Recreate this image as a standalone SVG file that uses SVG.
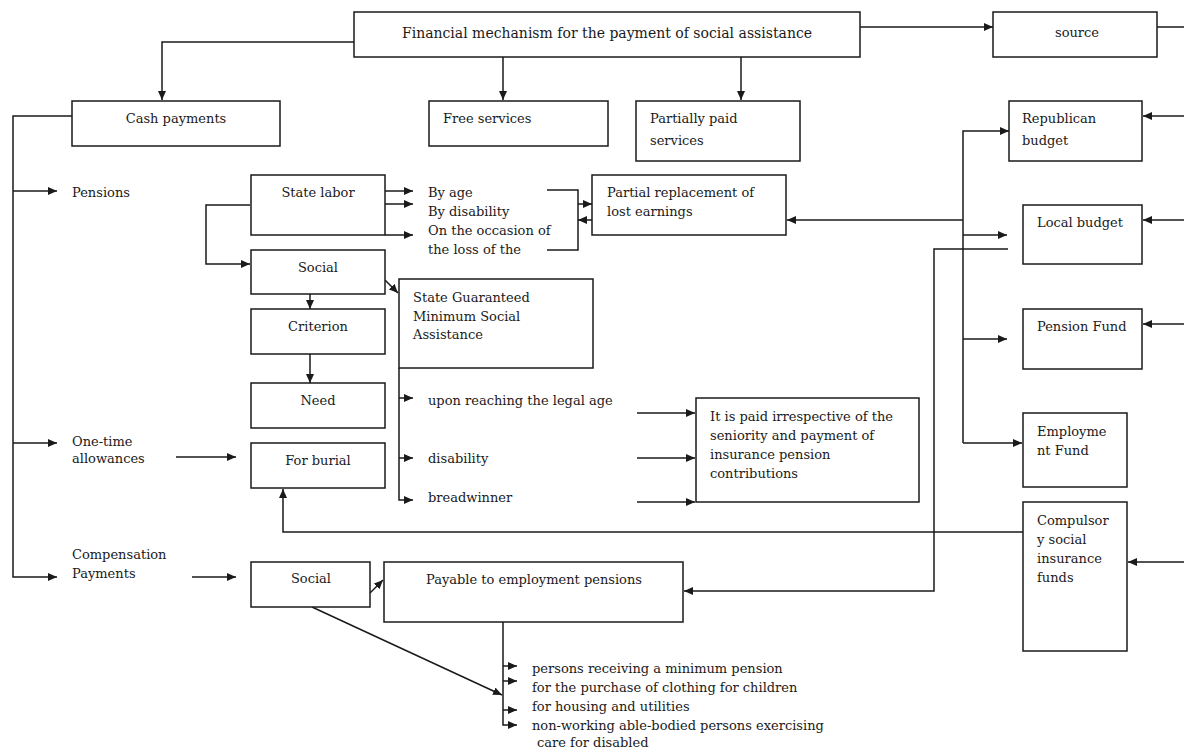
<svg xmlns="http://www.w3.org/2000/svg" width="1184" height="751" viewBox="0 0 1184 751">
<style>
rect.n{fill:#fff;stroke:#1a1a1a;stroke-width:1.5}
text{font-family:"DejaVu Serif","Liberation Serif",serif;font-size:13px;fill:#1a1a1a}
.c{text-anchor:middle}
.t{font-size:14px}
#connectors path{fill:none;stroke:#1a1a1a;stroke-width:1.5}
.a{marker-end:url(#ah)}
</style>
<defs>
<marker id="ah" markerUnits="userSpaceOnUse" markerWidth="9" markerHeight="8" refX="9" refY="4" orient="auto">
<path d="M0,0 L9,4 L0,8 z" fill="#1a1a1a"/>
</marker>
</defs>
<rect x="0" y="0" width="1184" height="751" fill="#fff"/>

<g id="connectors">
<path class="a" d="M354,42 H162 V100"/>
<path class="a" d="M503,57 V100"/>
<path class="a" d="M741,57 V100"/>
<path class="a" d="M860,27 H993"/>
<path d="M1157,27 H1184"/>
<path class="a" d="M1184,116 H1143"/>
<path class="a" d="M1184,220 H1143"/>
<path class="a" d="M1184,324 H1143"/>
<path class="a" d="M1184,562 H1128"/>
<path class="a" d="M72,116 H13 V577 H57"/>
<path class="a" d="M13,191 H57"/>
<path class="a" d="M13,443 H57"/>
<path class="a" d="M176,457 H236"/>
<path class="a" d="M192,577 H236"/>
<path class="a" d="M250,205 H206 V264 H250"/>
<path class="a" d="M385,191 H413"/>
<path class="a" d="M385,204 H413"/>
<path class="a" d="M385,235 H413"/>
<path d="M547,190 H578 V250 H547"/>
<path class="a" d="M578,204 H592"/>
<path class="a" d="M592,220 H578"/>
<path class="a" d="M963,220 H787"/>
<path class="a" d="M963,443 V131 H1009"/>
<path class="a" d="M963,235 H1007"/>
<path class="a" d="M963,339 H1007"/>
<path class="a" d="M963,443 H1022"/>
<path class="a" d="M1008,249 H934 V591 H684"/>
<path class="a" d="M310,294 V309"/>
<path class="a" d="M310,354 V383"/>
<path class="a" d="M385,280 L398,293"/>
<path class="a" d="M399,368 V500 H413"/>
<path class="a" d="M399,398 H413"/>
<path class="a" d="M399,458 H413"/>
<path class="a" d="M637,413 H695"/>
<path class="a" d="M637,458 H695"/>
<path class="a" d="M637,502 H695"/>
<path class="a" d="M1023,532 H283 V489"/>
<path class="a" d="M370,593 L383,580"/>
<path class="a" d="M312,607 L502,695"/>
<path class="a" d="M503,622 V725 H517"/>
<path class="a" d="M503,666 H517"/>
<path class="a" d="M503,681 H517"/>
<path class="a" d="M503,710 H517"/>
</g>

<g id="n-main"><rect class="n" x="354" y="12" width="506" height="45"/><text class="c t" x="607" y="38">Financial mechanism for the payment of social assistance</text></g>
<g id="n-source"><rect class="n" x="993" y="12" width="164" height="45"/><text class="c" x="1077" y="37">source</text></g>
<g id="n-cash"><rect class="n" x="72" y="101" width="208" height="45"/><text class="c" x="176" y="123">Cash payments</text></g>
<g id="n-free"><rect class="n" x="429" y="101" width="179" height="45"/><text x="443" y="123">Free services</text></g>
<g id="n-partial"><rect class="n" x="636" y="101" width="164" height="60"/><text x="650" y="123">Partially paid</text><text x="650" y="145">services</text></g>
<g id="n-republican"><rect class="n" x="1009" y="101" width="133" height="60"/><text x="1022" y="123">Republican</text><text x="1022" y="145">budget</text></g>

<g id="n-pensions"><text x="72" y="197">Pensions</text></g>
<g id="n-statelabor"><rect class="n" x="251" y="175" width="134" height="60"/><text class="c" x="318" y="197">State labor</text></g>
<g id="n-byage"><text x="428" y="197">By age</text><text x="428" y="216">By disability</text><text x="428" y="235">On the occasion of</text><text x="428" y="254">the loss of the</text></g>
<g id="n-replacement"><rect class="n" x="592" y="175" width="194" height="60"/><text x="607" y="197">Partial replacement of</text><text x="607" y="216">lost earnings</text></g>
<g id="n-local"><rect class="n" x="1023" y="205" width="119" height="59"/><text x="1037" y="227">Local budget</text></g>
<g id="n-social1"><rect class="n" x="251" y="250" width="134" height="44"/><text class="c" x="318" y="272">Social</text></g>
<g id="n-sgmsa"><rect class="n" x="399" y="279" width="194" height="89"/><text x="413" y="302">State Guaranteed</text><text x="413" y="321">Minimum Social</text><text x="413" y="339">Assistance</text></g>
<g id="n-criterion"><rect class="n" x="251" y="309" width="134" height="45"/><text class="c" x="318" y="331">Criterion</text></g>
<g id="n-pensionfund"><rect class="n" x="1023" y="309" width="119" height="60"/><text x="1037" y="331">Pension Fund</text></g>
<g id="n-need"><rect class="n" x="251" y="383" width="134" height="45"/><text class="c" x="318" y="405">Need</text></g>
<g id="n-legalage"><text x="428" y="405">upon reaching the legal age</text></g>
<g id="n-irrespective"><rect class="n" x="696" y="398" width="223" height="104"/><text x="710" y="421">It is paid irrespective of the</text><text x="710" y="440">seniority and payment of</text><text x="710" y="459">insurance pension</text><text x="710" y="478">contributions</text></g>
<g id="n-employment"><rect class="n" x="1023" y="413" width="104" height="74"/><text x="1037" y="436">Employme</text><text x="1037" y="455">nt Fund</text></g>
<g id="n-onetime"><text x="72" y="446">One-time</text><text x="72" y="463">allowances</text></g>
<g id="n-burial"><rect class="n" x="251" y="443" width="134" height="45"/><text class="c" x="318" y="465">For burial</text></g>
<g id="n-disability"><text x="428" y="463">disability</text></g>
<g id="n-breadwinner"><text x="428" y="502">breadwinner</text></g>
<g id="n-compulsory"><rect class="n" x="1023" y="502" width="104" height="149"/><text x="1037" y="525">Compulsor</text><text x="1037" y="544">y social</text><text x="1037" y="563">insurance</text><text x="1037" y="582">funds</text></g>
<g id="n-compensation"><text x="72" y="559">Compensation</text><text x="72" y="578">Payments</text></g>
<g id="n-social2"><rect class="n" x="251" y="562" width="119" height="45"/><text class="c" x="311" y="583">Social</text></g>
<g id="n-payable"><rect class="n" x="384" y="562" width="299" height="60"/><text class="c" x="534" y="584">Payable to employment pensions</text></g>
<g id="n-list"><text x="532" y="673">persons receiving a minimum pension</text><text x="532" y="692">for the purchase of clothing for children</text><text x="532" y="711">for housing and utilities</text><text x="532" y="730">non-working able-bodied persons exercising</text><text x="537" y="747">care for disabled</text></g>
</svg>
